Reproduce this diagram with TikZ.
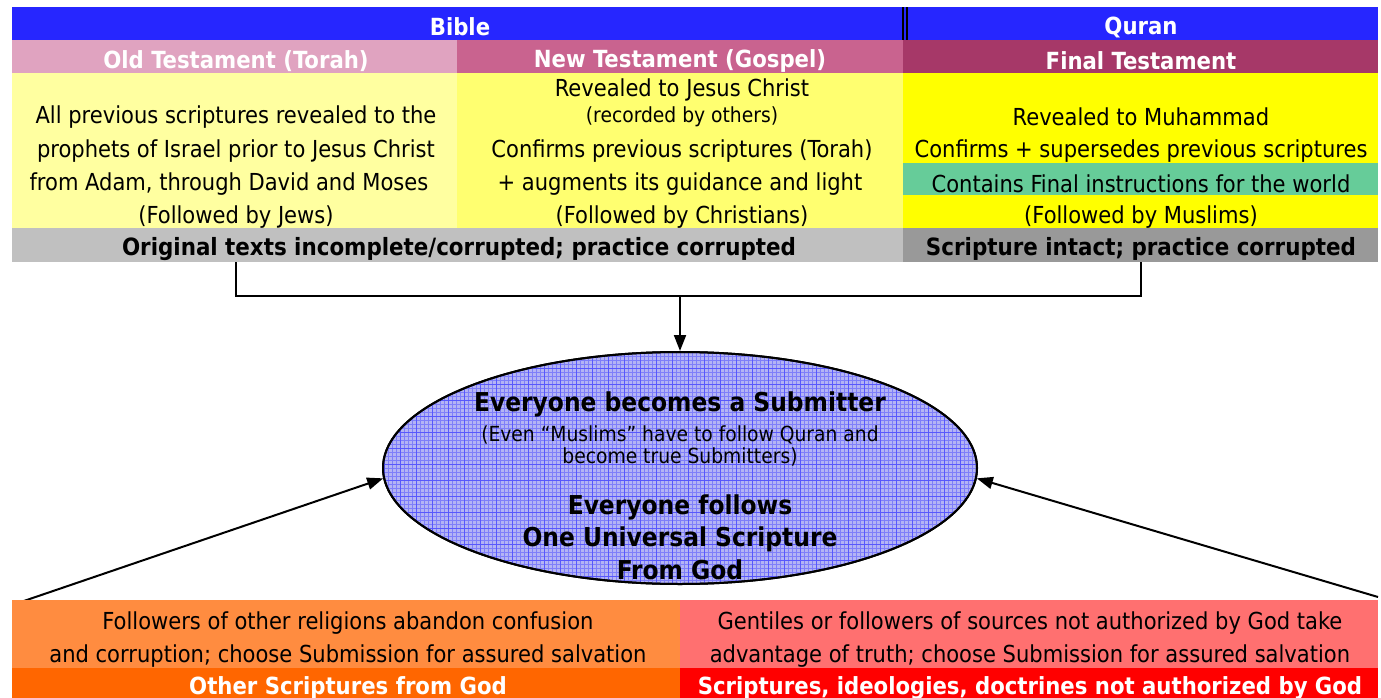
\documentclass[tikz,border=0pt]{standalone}
\usepackage{fontspec}
\setmainfont{DejaVu Sans Condensed}
\usetikzlibrary{shapes.geometric,arrows.meta}
\definecolor{hblue}{HTML}{2626FF}
\definecolor{oldpink}{HTML}{E0A3C0}
\definecolor{newpink}{HTML}{C9638F}
\definecolor{finpink}{HTML}{A63868}
\definecolor{ylA}{HTML}{FFFFA0}
\definecolor{ylB}{HTML}{FFFF70}
\definecolor{ylC}{HTML}{FFFF00}
\definecolor{grn}{HTML}{66CC99}
\definecolor{grayA}{HTML}{C0C0C0}
\definecolor{grayB}{HTML}{999999}
\definecolor{orA}{HTML}{FF8C40}
\definecolor{orB}{HTML}{FF6600}
\definecolor{rdA}{HTML}{FF7070}
\definecolor{rdB}{HTML}{FF0000}
\definecolor{ellfill}{HTML}{B4B4F4}
\tikzset{
  hd/.style={font=\fontsize{23.6}{26}\selectfont\bfseries, text=white, yshift=-2pt},
  bd/.style={font=\fontsize{23.8}{26}\selectfont\bfseries, yshift=-2pt},
  tx/.style={font=\fontsize{23.4}{26}\selectfont, yshift=-2pt},
  sm/.style={font=\fontsize{20.8}{23}\selectfont, yshift=-2pt},
  eb/.style={font=\fontsize{26}{28}\selectfont\bfseries, yshift=-2pt},
  conn/.style={line width=2pt},
  arr/.style={line width=2pt, -{Triangle[length=16pt,width=12pt]}},
}
\begin{document}
\begin{tikzpicture}[x=1pt,y=-1pt]
\useasboundingbox (0,0) rectangle (1381,698);
% header
\fill[hblue] (12,7) rectangle (1378,40);
\fill[black] (902,7) rectangle (908,40);
\fill[hblue] (904,7) rectangle (906,40);
\node[hd] (bible) at (460,25) {Bible};
\node[hd] (quran) at (1141,25) {Quran};
% row 2
\fill[oldpink] (12,40) rectangle (457,73);
\fill[newpink] (457,40) rectangle (903,73);
\fill[finpink] (903,40) rectangle (1378,73);
\node[hd] (old) at (236,59) {Old Testament (Torah)};
\node[hd] (new) at (680,59) {New Testament (Gospel)};
\node[hd] (fin) at (1141,59) {Final Testament};
% yellow area
\fill[ylA] (12,73) rectangle (457,228);
\fill[ylB] (457,73) rectangle (903,228);
\fill[ylC] (903,73) rectangle (1378,228);
\fill[grn] (903,163) rectangle (1378,195);
\node[tx] (o1) at (236,115) {All previous scriptures revealed to the};
\node[tx] (o2) at (236,149) {prophets of Israel prior to Jesus Christ};
\node[tx] (o3) at (229,182) {from Adam, through David and Moses};
\node[tx] (o4) at (236,215) {(Followed by Jews)};
\node[tx] (n1) at (682,88) {Revealed to Jesus Christ};
\node[sm] (n2) at (682,115) {(recorded by others)};
\node[tx] (n3) at (682,149) {Confirms previous scriptures (Torah)};
\node[tx] (n4) at (680,182) {+ augments its guidance and light};
\node[tx] (n5) at (682,215) {(Followed by Christians)};
\node[tx] (f1) at (1141,115) {Revealed to Muhammad};
\node[tx] (f2) at (1141,149) {Confirms + supersedes previous scriptures};
\node[tx] (f3) at (1141,182) {Contains Final instructions for the world};
\node[tx] (f4) at (1141,215) {(Followed by Muslims)};
% gray row
\fill[grayA] (12,228) rectangle (903,262);
\fill[grayB] (903,228) rectangle (1378,262);
\node[bd] (g1) at (459,247) {Original texts incomplete/corrupted; practice corrupted};
\node[bd] (g2) at (1141,247) {Scripture intact; practice corrupted};
% ellipse
\node[ellipse, draw=black, line width=2pt, fill=ellfill, minimum width=594pt, minimum height=232pt, inner sep=0pt] (ell) at (680,468) {};
\begin{scope}
\clip (680,468) ellipse (296pt and 115pt);
\draw[blue!70, line width=0.3pt, opacity=0.5, step=4pt] (380,350) grid (980,590);
\draw[blue!80, line width=0.6pt, opacity=0.5, step=16pt] (380,350) grid (980,590);
\end{scope}
\draw[line width=2pt] (ell.center) ellipse (297pt and 116pt);
\node[eb] (e1) at (680,402) {Everyone becomes a Submitter};
\node[sm] (e2) at (680,433) {(Even “Muslims” have to follow Quran and};
\node[sm] (e3) at (680,455) {become true Submitters)};
\node[eb] (e4) at (680,505) {Everyone follows};
\node[eb] (e5) at (680,537) {One Universal Scripture};
\node[eb] (e6) at (680,568) {From God};
% connectors
\coordinate (cl) at (236,262);
\coordinate (cr) at (1141,262);
\coordinate (cm) at (680,296);
\draw[conn] (cl) |- (cm) -| (cr);
\draw[arr] (cm) -- (ell.north);
\coordinate (al) at (15,604);
\coordinate (ar) at (1378,597);
\draw[arr] (al) -- (ell.182);
\draw[arr] (ar) -- (ell.358);
% bottom
\fill[orA] (12,600) rectangle (680,668);
\fill[rdA] (680,600) rectangle (1378,668);
\fill[orB] (12,668) rectangle (680,698);
\fill[rdB] (680,668) rectangle (1378,698);
\node[tx] (b1) at (348,621) {Followers of other religions abandon confusion};
\node[tx] (b2) at (348,654) {and corruption; choose Submission for assured salvation};
\node[hd] (b3) at (348,686) {Other Scriptures from God};
\node[tx] (b4) at (1030,621) {Gentiles or followers of sources not authorized by God take};
\node[tx] (b5) at (1030,654) {advantage of truth; choose Submission for assured salvation};
\node[hd] (b6) at (1030,686) {Scriptures, ideologies, doctrines not authorized by God};
\end{tikzpicture}
\end{document}
